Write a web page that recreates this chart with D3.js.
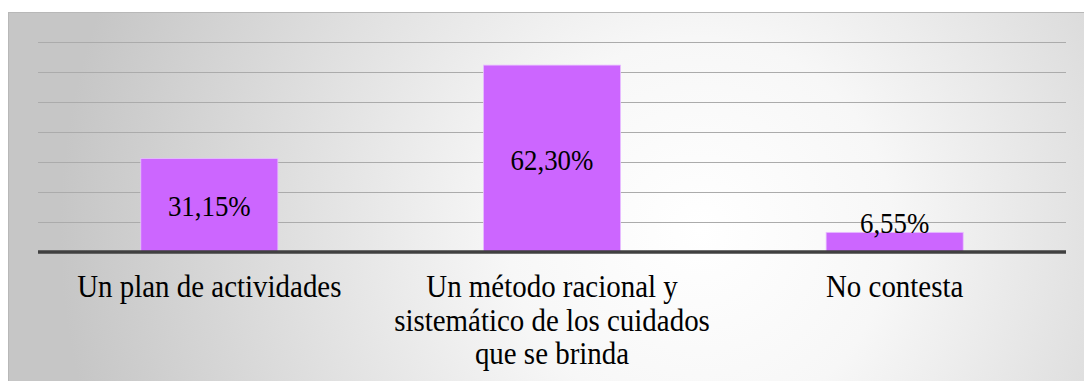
<!DOCTYPE html>
<html>
<head>
<meta charset="utf-8">
<script src="https://cdn.jsdelivr.net/npm/d3@7"></script>
<style>
  html, body { margin: 0; padding: 0; background: #ffffff; }
  svg { display: block; }
</style>
</head>
<body>
<svg id="chart" width="1084" height="381"></svg>
<script>
// ---- data ----
const categories = [
  "Un plan de actividades",
  "Un método racional y sistemático de los cuidados que se brinda",
  "No contesta"
];
const categoryLines = [
  ["Un plan de actividades"],
  ["Un método racional y", "sistemático de los cuidados", "que se brinda"],
  ["No contesta"]
];
const values = [31.15, 62.30, 6.55];
const valueLabels = ["31,15%", "62,30%", "6,55%"];
const gridTicks = [0, 10, 20, 30, 40, 50, 60, 70];

// ---- layout ----
const box = { x: 8, y: 12, w: 1080, h: 372 };
const plot = { left: 38, right: 1066, top: 42, bottom: 252 };
const serif = '"Liberation Serif"';

const svg = d3.select("#chart");
const defs = svg.append("defs");
const grad = defs.append("radialGradient")
  .attr("id", "bg")
  .attr("gradientUnits", "userSpaceOnUse")
  .attr("cx", 700).attr("cy", 230).attr("r", 640)
  .attr("fx", 700).attr("fy", 230);
grad.append("stop").attr("offset", 0).attr("stop-color", "#ffffff");
grad.append("stop").attr("offset", 0.3).attr("stop-color", "#f7f7f7");
grad.append("stop").attr("offset", 1).attr("stop-color", "#c6c6c6");

svg.append("rect")
  .attr("x", box.x + 0.5).attr("y", box.y + 0.5)
  .attr("width", box.w).attr("height", box.h)
  .attr("fill", "url(#bg)")
  .attr("stroke", "#b8b8b8").attr("stroke-width", 1);

const x = d3.scaleBand()
  .domain(categories)
  .range([plot.left, plot.right])
  .paddingInner(0.6)
  .paddingOuter(0.3);

const y = d3.scaleLinear()
  .domain([0, 70])
  .range([plot.bottom, plot.top]);

// gridlines
svg.append("g")
  .selectAll("line")
  .data(gridTicks.filter(t => t > 0))
  .join("line")
  .attr("x1", plot.left).attr("x2", plot.right)
  .attr("y1", d => Math.round(y(d)) + 0.5)
  .attr("y2", d => Math.round(y(d)) + 0.5)
  .attr("stroke", "#ababab")
  .attr("stroke-width", 1.2);

// bars
svg.append("g")
  .selectAll("rect")
  .data(values)
  .join("rect")
  .attr("x", (d, i) => x(categories[i]))
  .attr("y", d => y(d))
  .attr("width", x.bandwidth())
  .attr("height", d => y(0) - y(d))
  .attr("fill", "#cc66ff")
  .attr("stroke", "#e8c0ff")
  .attr("stroke-width", 0.8);

// axis line
svg.append("line")
  .attr("x1", plot.left).attr("x2", plot.right)
  .attr("y1", y(0)).attr("y2", y(0))
  .attr("stroke", "#404040")
  .attr("stroke-width", 3.6);

// condense text horizontally (tall, narrow look of the original)
function condense(sel, k) {
  sel.each(function () {
    const w = this.getComputedTextLength();
    d3.select(this).attr("textLength", w * k).attr("lengthAdjust", "spacingAndGlyphs");
  });
}

// value labels
svg.append("g")
  .selectAll("text")
  .data(values)
  .join("text")
  .attr("x", (d, i) => x(categories[i]) + x.bandwidth() / 2)
  .attr("y", d => (y(0) - y(d)) > 40 ? (y(d) + y(0)) / 2 + 11 : y(d) + 1)
  .attr("text-anchor", "middle")
  .style("font-family", serif)
  .style("font-size", "29.5px")
  .attr("fill", "#000")
  .text((d, i) => valueLabels[i])
  .call(condense, 0.91);

// category labels
const catG = svg.append("g");
categoryLines.forEach((lines, i) => {
  const cx = x(categories[i]) + x.bandwidth() / 2;
  lines.forEach((ln, j) => {
    catG.append("text")
      .attr("x", cx)
      .attr("y", 297 + j * 33.5)
      .attr("text-anchor", "middle")
      .style("font-family", serif)
      .style("font-size", "32.5px")
      .attr("fill", "#000")
      .text(ln)
      .call(condense, 0.89);
  });
});
</script>
</body>
</html>
